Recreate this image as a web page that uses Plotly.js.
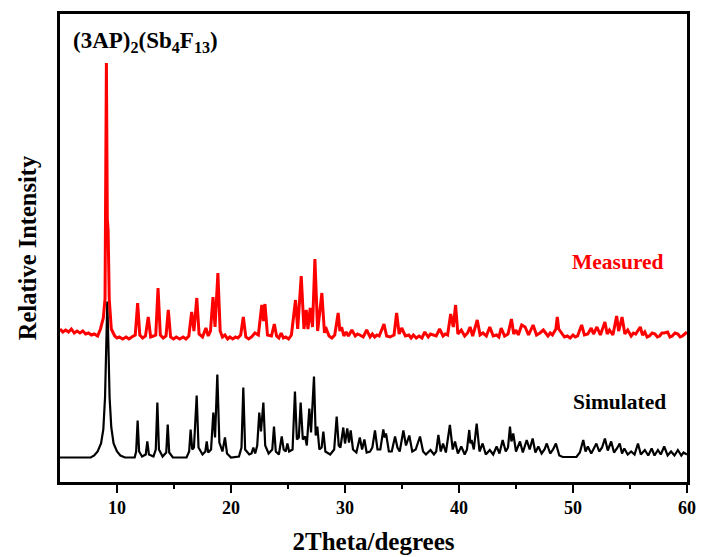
<!DOCTYPE html>
<html>
<head>
<meta charset="utf-8">
<script src="https://cdn.plot.ly/plotly-3.0.1.min.js"></script>
<style>
  html, body { margin: 0; padding: 0; background: #ffffff; }
  #chart { width: 701px; height: 557px; }
</style>
</head>
<body>
<div id="chart"></div>
<script>
// ---- Data: [2Theta (degrees), intensity above baseline (a.u.)] ----
const simulatedPattern = [
  [5,0],[7.7,0],[8.0,2],[8.3,6],[8.6,14],[8.8,28],[8.95,60],[9.05,110],[9.15,156],[9.25,110],[9.35,60],[9.5,30],[9.7,14],[10.0,6],[10.3,2],[10.7,0],
  [11.55,0],[11.68,6],[11.81,37],[11.94,6],[12.2,1],[12.52,3],[12.66,16],[12.8,3],[13.2,1],[13.4,8],[13.54,55],[13.68,8],[14.0,1],[14.32,5],[14.45,33],[14.58,5],[14.9,0],
  [16.1,0],[16.33,6],[16.46,28],[16.6,8],[16.75,10],[16.99,62],[17.15,10],[17.5,3],[17.75,6],[17.87,16],[18.0,5],[18.25,8],[18.45,45],[18.6,20],[18.8,83],[18.98,15],[19.25,6],[19.47,20],[19.65,4],[20.0,0],
  [20.7,1],[20.92,10],[21.08,70],[21.24,8],[21.6,3],[21.8,4],[21.96,10],[22.12,4],[22.3,12],[22.48,45],[22.63,26],[22.84,55],[23.0,12],[23.3,4],[23.62,8],[23.77,31],[23.93,6],[24.2,3],[24.45,21],[24.62,8],[24.8,6],[24.95,14],[25.1,6],[25.4,8],[25.61,66],[25.78,18],[25.95,20],[26.11,55],[26.3,18],[26.5,21],[26.65,12],[26.87,49],[27.02,25],[27.28,81],[27.43,22],[27.57,31],[27.75,8],[27.95,10],[28.1,26],[28.28,6],[28.7,3],[29.05,8],[29.27,41],[29.45,12],[29.6,10],[29.85,30],[30.0,14],[30.2,29],[30.35,15],[30.5,27],[30.7,8],[31.0,5],[31.3,20],[31.5,8],[31.7,18],[31.9,5],
  [32.2,6],[32.4,10],[32.63,27],[32.85,8],[33.1,8],[33.36,28],[33.48,20],[33.6,24],[33.85,6],[34.1,6],[34.39,21],[34.6,10],[34.8,6],[35.12,27],[35.35,12],[35.64,22],[35.9,6],[36.2,8],[36.58,21],[36.85,6],
  [37.1,3],[37.5,7.5],[37.8,3],[38.0,6],[38.19,22.5],[38.4,6],[38.6,14],[38.85,5],[39.2,32.5],[39.45,8],[39.65,16],[39.9,4],[40.2,11],[40.5,3],[40.7,8],[40.9,27.5],[41.0,14],[41.1,17.5],[41.3,8],[41.55,34],[41.8,6],[42.07,14],[42.35,3],[42.7,7.5],[43.0,3],[43.3,11],[43.55,4],[43.83,17.5],[44.1,6],[44.3,10],[44.47,31],[44.6,16],[44.76,24],[45.0,6],[45.35,16],[45.6,5],[45.94,17.5],[46.2,8],[46.46,19],[46.7,5],[46.96,11],[47.25,4],[47.5,8],[47.7,14],[48.0,4],[48.25,8],[48.5,14],[48.8,2],[49.1,0.5],
  [50.3,0.5],[50.6,5],[50.9,17.5],[51.1,6],[51.3,11],[51.6,4],[51.8,8],[52.05,14],[52.3,6],[52.55,10],[52.8,19],[53.05,7],[53.35,16],[53.6,5],[53.85,9],[54.1,14],[54.3,4],[54.5,9],[54.8,3],[55.1,6],[55.4,3],[55.7,14],[55.95,3],[56.3,7.5],[56.6,2],[56.9,9],[57.15,2],[57.45,7.5],[57.7,3],[58.0,11],[58.3,2],[58.6,6],[58.9,2],[59.2,7.5],[59.5,2],[59.7,5],[60,3]
];

const measuredPattern = [
  [5,10],[5.25,7],[5.5,9],[5.75,7],[6.0,10],[6.25,6],[6.5,8],[6.75,6],[7.0,8],[7.25,5],[7.5,6],[7.75,4],[8.0,5],[8.3,3],[8.55,10],[8.8,21],[8.95,40],[9.07,276],[9.15,120],[9.22,109],[9.32,40],[9.5,10],[9.8,3],[10.0,1],[10.2,2],[10.5,0],[10.8,2],[11.05,0],[11.3,2],[11.6,4],[11.81,36],[12.0,4],[12.25,1],[12.5,3],[12.74,22],[12.95,2],[13.2,3],[13.4,4],[13.6,51],[13.8,4],[14.05,1],[14.3,3],[14.5,29],[14.7,2],[14.95,0],[15.2,2],[15.5,0],[15.8,2],[16.05,0],[16.3,3],[16.55,27],[16.75,8],[17.0,41],[17.2,5],[17.5,2],[17.8,11],[18.0,3],[18.2,8],[18.42,42],[18.6,12],[18.85,66],[19.05,8],[19.25,2],[19.47,4],[19.7,0],[19.9,2],
  [20.15,0],[20.4,2],[20.6,1],[20.85,4],[21.08,22],[21.3,2],[21.55,0],[21.8,2],[22.1,6],[22.4,4],[22.7,34],[22.85,18],[22.98,35],[23.2,4],[23.55,3],[23.8,15],[24.0,3],[24.2,1],[24.4,6],[24.6,1],[24.8,2],[25.05,0],[25.3,4],[25.66,39],[25.85,10],[26.16,63],[26.4,10],[26.6,29],[26.75,10],[26.95,31],[27.15,12],[27.36,80],[27.6,8],[27.97,46],[28.2,6],[28.3,12],[28.6,3],[28.85,1],[29.1,4],[29.4,26],[29.55,8],[29.7,12],[29.9,3],[30.1,7],[30.3,3],[30.6,9],[30.9,3],[31.1,5],[31.3,4],[31.6,2],[31.9,9],
  [32.2,2],[32.4,5],[32.6,2],[32.8,4],[33.0,3],[33.42,15],[33.65,3],[33.95,2],[34.3,4],[34.53,26],[34.75,5],[34.97,11],[35.3,3],[35.6,4],[35.8,1],[36.0,4],[36.25,1],[36.5,3],[36.75,1],[37.0,7],[37.3,2],[37.5,5],[37.7,4],[38.0,3],[38.3,10],[38.6,3],[38.8,5],[39.0,4],[39.27,25],[39.5,12],[39.7,34],[39.9,5],[40.2,9],[40.5,3],[40.75,6],[40.97,12],[41.2,3],[41.6,19],[41.85,4],[42.1,6],[42.4,3],[42.7,12],[43.0,3],[43.3,4],[43.5,2],[43.7,11],[44.0,3],[44.3,5],[44.6,20],[44.8,5],[45.0,9],[45.2,4],[45.5,14],[45.8,12],[46.1,4],[46.5,14],[46.8,4],[47.1,6],[47.4,9],[47.8,3],[48.0,6],[48.2,4],[48.5,10],[48.62,22],[48.75,10],[49.0,6],[49.25,2],[49.5,3],[49.75,1],[50.0,4],[50.2,2],[50.4,3],[50.76,14],[51.0,4],[51.3,5],[51.6,11],[51.8,5],[52.1,12],[52.4,4],[52.8,17],[53.0,5],[53.2,9],[53.5,4],[53.83,23],[54.0,8],[54.1,12],[54.3,22],[54.55,5],[54.8,9],[55.1,3],[55.3,6],[55.5,5],[55.9,12],[56.1,4],[56.3,7],[56.5,2],[56.7,3],[56.95,6],[57.2,5],[57.4,2],[57.6,3],[57.8,6],[58.0,6],[58.3,7],[58.5,2],[58.7,3],[58.95,6],[59.2,5],[59.4,2],[59.6,3],[59.75,5],[59.9,6],[60,5]
];

const seriesNames = ['Simulated', 'Measured'];
const xTickValues = [10, 20, 30, 40, 50, 60];
const xMinorTickValues = [15, 25, 35, 45, 55];

// ---- Presentation (vertical stacking offsets of the two patterns) ----
const SIM_OFFSET = 24.5;
const MEAS_OFFSET = 143;

const serif = 'Liberation Serif, Times New Roman, serif';

const traces = [
  {
    x: simulatedPattern.map(p => p[0]),
    y: simulatedPattern.map(p => p[1] + SIM_OFFSET),
    type: 'scatter', mode: 'lines', name: seriesNames[0],
    line: { color: '#000000', width: 2.2 },
    hoverinfo: 'x+name'
  },
  {
    x: measuredPattern.map(p => p[0]),
    y: measuredPattern.map(p => p[1] + MEAS_OFFSET),
    type: 'scatter', mode: 'lines', name: seriesNames[1],
    line: { color: '#ff0000', width: 3 },
    hoverinfo: 'x+name'
  }
];

const layout = {
  width: 701, height: 557,
  margin: { l: 60, r: 14, t: 14, b: 75 },
  paper_bgcolor: '#ffffff', plot_bgcolor: '#ffffff',
  showlegend: false,
  font: { family: serif, color: '#000000' },
  xaxis: {
    range: [5, 60],
    tickvals: xTickValues,
    ticktext: xTickValues.map(String),
    ticks: 'outside', ticklen: 8, tickwidth: 2.5, tickcolor: '#000',
    minor: { tickvals: xMinorTickValues, ticks: 'outside', ticklen: 4, tickwidth: 2, tickcolor: '#000' },
    showline: true, linewidth: 2.6, linecolor: '#000', mirror: true,
    showgrid: false, zeroline: false,
    tickfont: { family: serif, size: 18, weight: 'bold', color: '#000' },
    title: { text: '2Theta/degrees', font: { family: serif, size: 25, weight: 'bold', color: '#000' }, standoff: 16 }
  },
  yaxis: {
    range: [0, 468],
    showticklabels: false, ticks: '',
    showline: true, linewidth: 2.6, linecolor: '#000', mirror: true,
    showgrid: false, zeroline: false,
    title: { text: 'Relative Intensity', font: { family: serif, size: 24.5, weight: 'bold', color: '#000' }, standoff: 14 }
  },
  annotations: [
    {
      xref: 'paper', yref: 'paper', x: 0.018, y: 0.94, xanchor: 'left', yanchor: 'middle',
      text: '(3AP)<sub>2</sub>(Sb<sub>4</sub>F<sub>13</sub>)', showarrow: false,
      font: { family: serif, size: 23, weight: 'bold', color: '#000' }
    },
    {
      xref: 'paper', yref: 'paper', x: 0.89, y: 0.47, xanchor: 'center', yanchor: 'middle',
      text: 'Measured', showarrow: false,
      font: { family: serif, size: 21.5, weight: 'bold', color: '#ff0000' }
    },
    {
      xref: 'paper', yref: 'paper', x: 0.893, y: 0.171, xanchor: 'center', yanchor: 'middle',
      text: 'Simulated', showarrow: false,
      font: { family: serif, size: 21.5, weight: 'bold', color: '#000' }
    }
  ]
};

Plotly.newPlot('chart', traces, layout, { displayModeBar: false, staticPlot: true });
</script>
</body>
</html>
